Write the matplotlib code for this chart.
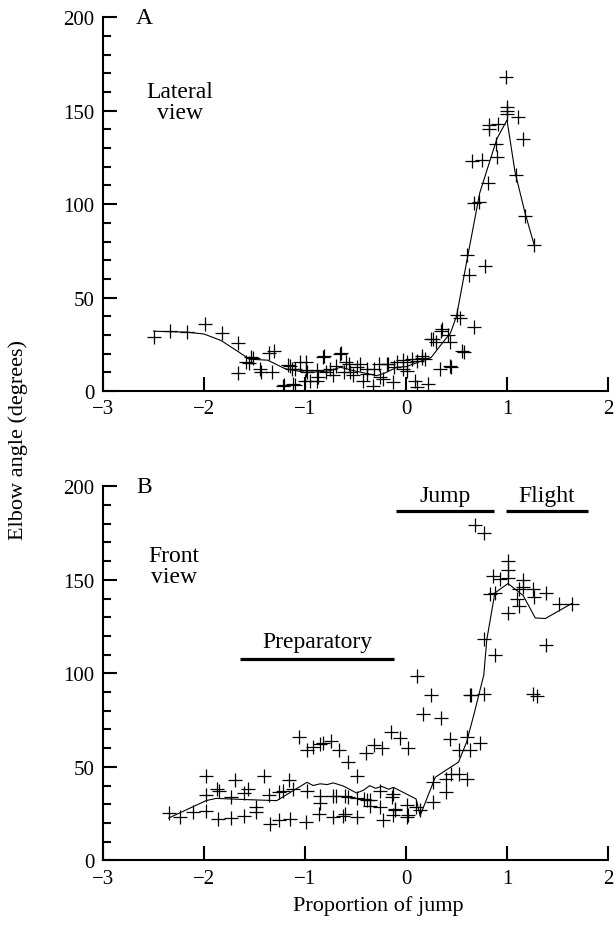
import matplotlib
matplotlib.use("Agg")
import matplotlib.pyplot as plt
from matplotlib.ticker import MultipleLocator

plt.rcParams['font.family'] = ['Liberation Serif', 'DejaVu Serif']

# ---- Panel A (lateral view) ----
a_x = [-2.50, -2.34, -2.17, -1.99, -1.82, -1.66, -1.66, -1.51, -1.55, -1.36, -1.31, -1.44, -1.33,
       -1.22, -1.10, -1.165, -1.13, -1.05, -0.99, -0.99, -1.00, -0.885, -0.885, -0.81, -0.75, -0.72,
       -0.69, -0.64, -0.61, -0.56, -0.525, -0.46, -0.43, -0.39, -0.33, -0.27, -0.225, -0.175, -0.125,
       -0.09, -0.03, 0.01, 0.06, 0.11, 0.11, 0.155, 0.22, 0.19, 0.25, 0.30, 0.34, 0.35, 0.42, 0.44,
       0.45, 0.50, 0.53, 0.57, 0.67, 0.60, 0.62, 0.78, 0.67, 0.72, 0.65, 0.75, 0.90, 0.89, 1.16,
       0.815, 1.09, 1.18, 1.27, 0.99, 1.00, 1.00, 1.00, 1.11, 0.825, 0.825, 0.91, 0.55, 0.36, 0.27,
       0.44, -1.53, -1.58, -1.45, -1.15, -1.10, -0.98, -0.87, -0.82, -0.65, -0.79, -0.59, -0.55,
       -0.49, -0.39, -0.32, -0.26, -0.19, -0.12, -0.03, 0.005, 0.09, 0.155, -1.21, -1.12, -0.95]
a_y = [29, 32, 31.5, 36, 31.2, 25.7, 9.6, 17.5, 15, 20.4, 21.6, 10.3, 10.3,
       2.5, 3.2, 14.1, 11.9, 15.4, 15.4, 11, 5.6, 5.6, 11, 18.8, 12, 8.3,
       13.6, 20.4, 10, 14.5, 8.3, 14.5, 5.6, 11.9, 2.8, 14.5, 6.6, 14.5, 4.8,
       15.4, 11.9, 15.4, 17.1, 1.9, 16.2, 18.6, 3.8, 17.1, 27.8, 26, 11.9, 32.3, 30, 26,
       12.8, 40.8, 39, 20.8, 34, 72.8, 62.1, 67.1, 100.6, 101, 123, 123.8, 125.1, 132.2, 134.9,
       111.3, 115.6, 93.8, 78.2, 167.9, 152, 150, 148, 146.5, 142.4, 140, 143, 21.6, 33.2, 27.8,
       13.2, 18, 15.4, 11.8, 13.6, 11.8, 10, 7.3, 18, 19.8, 10, 15.4, 10,
       12.7, 9.1, 11.8, 7.3, 14.5, 12.7, 16.4, 10.9, 5.5, 17.9, 3.0, 3.7, 5.5]
a_line_x = [-2.5, -2.17, -2.0, -1.83, -1.66, -1.55, -1.37, -1.2, -1.0, -0.85, -0.75, -0.65, -0.52,
            -0.29, -0.21, -0.09, 0.0, 0.1, 0.25, 0.35, 0.44, 0.5, 0.6, 0.716, 0.73, 0.9, 1.0, 1.08,
            1.18, 1.27]
a_line_y = [32, 31.5, 30.5, 27, 21, 17, 16.5, 12, 10, 10.3, 10.9, 12.7, 10.9,
            8.2, 9.6, 12.7, 13, 15, 18, 25, 31, 40, 69, 102, 106, 135, 145, 117,
            95, 78]

# ---- Panel B (front view) ----
b_x = [-2.35, -2.24, -2.11, -1.98, -1.98, -1.98, -1.87, -1.85, -1.86, -1.73, -1.73, -1.69, -1.60,
       -1.60, -1.56, -1.49, -1.49, -1.41, -1.36, -1.35, -1.26, -1.22, -1.26, -1.16, -1.15, -1.12,
       -1.06, -0.98, -0.99, -0.98, -0.92, -0.85, -0.82, -0.74, -0.66, -0.85, -0.85, -0.86, -0.72,
       -0.69, -0.72, -0.60, -0.57, -0.60, -0.57, -0.49, -0.49, -0.49, -0.42, -0.36, -0.40, -0.32,
       -0.26, -0.24, -0.26, -0.23, -0.15, -0.13, -0.11, -0.13, -0.06, 0.01, 0.02, 0.02, 0.11, 0.10,
       0.14, 0.165, 0.25, 0.35, 0.27, 0.27, 0.40, 0.40, 0.44, 0.45, 0.52, 0.52, 0.60, 0.60, 0.63,
       0.63, 0.73, 0.77, 0.88, 0.77, 1.26, 1.30, 1.39, 0.68, 0.77, 1.01, 1.01, 1.01, 0.865, 0.93,
       0.83, 0.88, 1.155, 1.16, 1.12, 1.26, 1.27, 1.39, 1.10, 1.12, 1.01, 1.51, 1.64, 0.64,
       -0.39, -0.36, -0.11, -0.14, 0.01, -0.62]
b_y = [25.4, 23.0, 25.7, 26.6, 45.0, 35.0, 38.2, 37.3, 22.1, 22.6, 33.7, 43.2, 23.9,
       36.0, 38.2, 28.3, 26.0, 45.0, 35.0, 19.4, 36.5, 37, 21.6, 42.7, 22.1, 38,
       66.0, 58.9, 20.4, 37.3, 60.7, 62.4, 62.8, 63.9, 58.9, 34.3, 30.8, 24.5, 34.3,
       34.3, 23.4, 34.3, 34, 24.5, 52.4, 45.0, 33.4, 23.4, 32.6, 32.3, 57.4, 61.8,
       36.9, 60.0, 28.5, 21.6, 68.5, 35.2, 27.1, 24.1, 65.3, 29.4, 60.0, 24.1, 98.6, 28.5,
       26.8, 78.4, 88.2, 76.1, 41.8, 31, 43.6, 36.4, 65.0, 46.3, 58.9, 46.3, 65.9, 43.6, 58.9,
       88.2, 62.6, 89.1, 110.0, 118.5, 89.1, 87.8, 115.3, 179.2, 174.8, 159.9, 155.1, 151.0, 152.1, 150.3,
       142.6, 143.1, 149.7, 146.2, 145.3, 145.3, 140.9, 143.1, 140, 136, 132, 136.8, 137.3, 88.5,
       32, 29.3, 27.5, 33.7, 23, 23.9]
b_line_x = [-2.35, -1.98, -1.88, -1.6, -1.28, -0.98, -0.92, -0.85, -0.78, -0.72, -0.62, -0.49, -0.42,
            -0.36, -0.30, -0.24, -0.17, -0.125, 0.10, 0.14, 0.29, 0.39, 0.52, 0.60, 0.67, 0.77, 0.80,
            0.88, 1.01, 1.16, 1.28, 1.38, 1.64]
b_line_y = [22.6, 31.9, 33.1, 32.5, 31.9, 41.7, 40, 40.9, 40.5, 41.4, 39.7, 36, 37.5,
            39.9, 38.5, 39.5, 38, 39, 32.8, 23.9, 44.4, 48, 52.5, 63.2, 77.5, 99, 118,
            143, 148, 141.6, 129.6, 129.3, 137.3]

x_ticks = [-3, -2, -1, 0, 1, 2]
y_ticks = [0, 50, 100, 150, 200]

TICK_FS = 15
ANN_FS = 17
LAB_FS = 16

W, H = 615, 937
fig = plt.figure(figsize=(W / 100, H / 100), dpi=100)
axA = fig.add_axes([103 / W, 1 - 392 / H, 505 / W, 373.7 / H])
axB = fig.add_axes([103 / W, 1 - 861.3 / H, 505 / W, 374 / H])

for ax, xs, ys, lx, ly in [(axA, a_x, a_y, a_line_x, a_line_y), (axB, b_x, b_y, b_line_x, b_line_y)]:
    ax.plot(xs, ys, linestyle='none', marker='+', markersize=10, markeredgewidth=0.9, color='black')
    ax.plot(lx, ly, color='black', linewidth=0.8)
    ax.set_xlim(-3, 2)
    ax.set_ylim(0, 200)
    ax.set_xticks(x_ticks)
    ax.set_yticks(y_ticks)
    ax.yaxis.set_minor_locator(MultipleLocator(10))
    for s in ['top', 'right']:
        ax.spines[s].set_visible(False)
    for s in ['left', 'bottom']:
        ax.spines[s].set_linewidth(1.5)
    ax.tick_params(axis='both', which='major', direction='in', length=10, width=1.5,
                   labelsize=TICK_FS, pad=6)
    ax.tick_params(axis='y', which='minor', direction='in', length=6, width=1.5)
    ax.tick_params(axis='x', which='minor', bottom=False)

axA.text(-2.59, 200, 'A', fontsize=ANN_FS, ha='center', va='center')
axA.text(-2.24, 154.7, 'Lateral\nview', fontsize=ANN_FS, ha='center', va='center', linespacing=1.05)

axB.text(-2.59, 200, 'B', fontsize=ANN_FS, ha='center', va='center')
axB.text(-2.30, 157.4, 'Front\nview', fontsize=ANN_FS, ha='center', va='center', linespacing=1.05)

# phase bars
axB.plot([-0.1, 0.875], [187, 187], color='black', linewidth=2.3, solid_capstyle='butt')
axB.text(0.385, 195.3, 'Jump', fontsize=ANN_FS, ha='center', va='center')
axB.plot([0.99, 1.805], [187, 187], color='black', linewidth=2.3, solid_capstyle='butt')
axB.text(1.393, 195.3, 'Flight', fontsize=ANN_FS, ha='center', va='center')
axB.plot([-1.64, -0.12], [107.4, 107.4], color='black', linewidth=2.3, solid_capstyle='butt')
axB.text(-0.876, 117, 'Preparatory', fontsize=ANN_FS, ha='center', va='center')

fig.text(18 / W, 1 - 440 / H, 'Elbow angle (degrees)', rotation=90, fontsize=LAB_FS,
         ha='center', va='center')
fig.text(378 / W, 1 - 906 / H, 'Proportion of jump', fontsize=LAB_FS, ha='center', va='center')

fig.savefig('out.png', dpi=100)
